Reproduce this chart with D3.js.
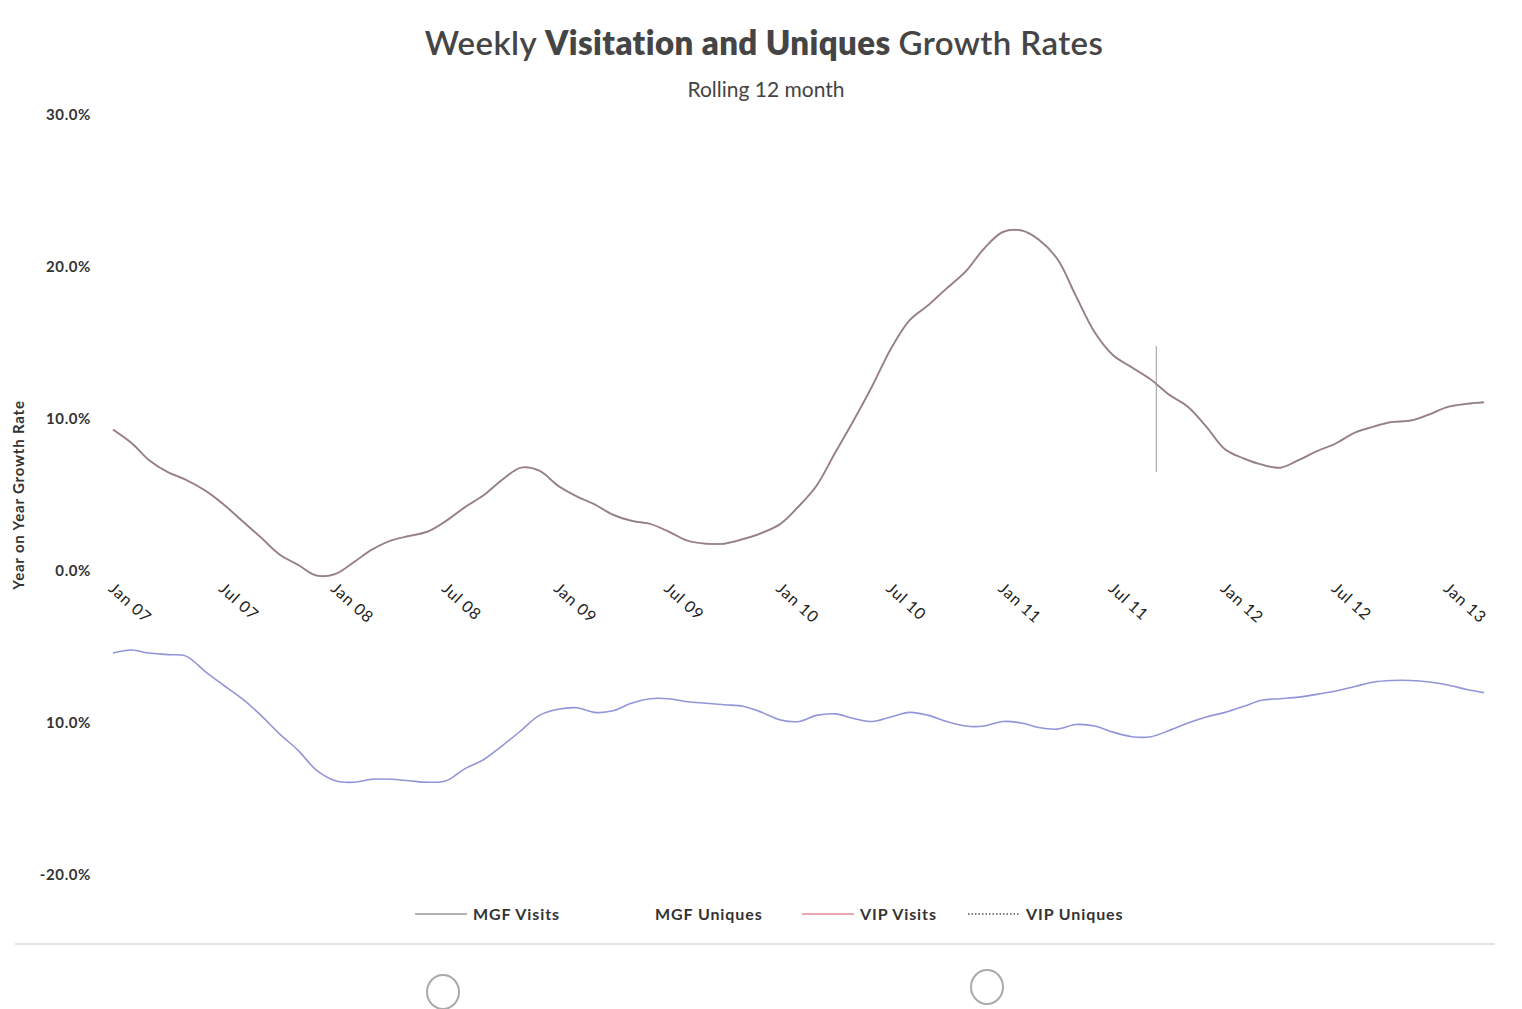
<!DOCTYPE html>
<html>
<head>
<meta charset="utf-8">
<script src="https://cdn.jsdelivr.net/npm/d3@7"></script>
<style>
  body { margin: 0; background: #fff; }
  svg { display: block; font-family: Lato, "Open Sans", sans-serif; }
</style>
</head>
<body>
<svg id="chart" width="1522" height="1009"></svg>
<script>
// monthly points, first one is Jan 2007
let startMonth = new Date(2007, 0, 1);

// top curve, MGF Visits and VIP Visits sit on top of each other
let visits = [9.3, 8.4, 7.3, 6.5, 6.0, 5.3, 4.4, 3.3, 2.2, 1.1, 0.4, -0.3,
  -0.2, 0.6, 1.4, 2.0, 2.3, 2.6, 3.3, 4.2, 5.0, 6.0, 6.8, 6.6,
  5.6, 4.9, 4.4, 3.7, 3.3, 3.1, 2.6, 2.0, 1.8, 1.8, 2.1, 2.5,
  3.1, 4.3, 5.6, 7.8, 9.9, 12.2, 14.6, 16.5, 17.5, 18.6, 19.7, 21.2,
  22.3, 22.4, 21.8, 20.5, 18.1, 15.7, 14.2, 13.4, 12.6, 11.6, 10.8, 9.5,
  8.0, 7.4, 7.0, 6.8, 7.3, 7.9, 8.4, 9.1, 9.5, 9.8, 9.9, 10.3,
  10.8, 11.0, 11.1];

// bottom curve (uniques)
let uniques = [-5.4, -5.2, -5.4, -5.5, -5.6, -6.6, -7.5, -8.4, -9.5, -10.7, -11.8, -13.1,
  -13.8, -13.9, -13.7, -13.7, -13.8, -13.9, -13.8, -13.0, -12.4, -11.5, -10.5, -9.5,
  -9.1, -9.0, -9.3, -9.2, -8.7, -8.4, -8.4, -8.6, -8.7, -8.8, -8.9, -9.3,
  -9.8, -9.9, -9.5, -9.4, -9.7, -9.9, -9.6, -9.3, -9.5, -9.9, -10.2, -10.2,
  -9.9, -10.0, -10.3, -10.4, -10.1, -10.2, -10.6, -10.9, -10.9, -10.5, -10.0, -9.6,
  -9.3, -8.9, -8.5, -8.4, -8.3, -8.1, -7.9, -7.6, -7.3, -7.2, -7.2, -7.3,
  -7.5, -7.8, -8.0];

let yTicks = [-20, -10, 0, 10, 20, 30];
let yTickLabels = ["-20.0%", "10.0%", "0.0%", "10.0%", "20.0%", "30.0%"];

let xTickLabels = ["Jan 07", "Jul 07", "Jan 08", "Jul 08", "Jan 09", "Jul 09", "Jan 10",
  "Jul 10", "Jan 11", "Jul 11", "Jan 12", "Jul 12", "Jan 13"];

let legendNames = ["MGF Visits", "MGF Uniques", "VIP Visits", "VIP Uniques"];

// the odd vertical mark near Sep 11
let markerMonth = 56.3;
let markerRange = [6.5, 14.8];

function monthDate(m) {
  let d = new Date(startMonth);
  d.setMonth(d.getMonth() + Math.floor(m));
  d.setDate(1 + Math.round((m - Math.floor(m)) * 30));
  return d;
}

let svg = d3.select("svg#chart");

let x = d3.scaleTime()
  .domain([new Date(2007, 0, 1), new Date(2013, 0, 1)])
  .range([113, 1448]);

let y = d3.scaleLinear()
  .domain([-20, 30])
  .range([875, 115]);

// title
let title = svg.append("text")
  .attr("x", 764)
  .attr("y", 55)
  .attr("text-anchor", "middle")
  .attr("fill", "#454545")
  .style("font-size", "33px")
  .style("letter-spacing", "0.4px");
title.append("tspan").attr("font-weight", 600).text("Weekly ");
title.append("tspan").attr("font-weight", 800).text("Visitation and Uniques ");
title.append("tspan").attr("font-weight", 600).text("Growth Rates");

svg.append("text")
  .attr("x", 766)
  .attr("y", 97)
  .attr("text-anchor", "middle")
  .attr("fill", "#444")
  .style("font-size", "21px")
  .text("Rolling 12 month");

// y axis
let yAxis = d3.axisLeft(y)
  .tickValues(yTicks)
  .tickSize(0)
  .tickPadding(0)
  .tickFormat(function (d, i) { return yTickLabels[i]; });

let gy = svg.append("g")
  .attr("transform", "translate(91,0)")
  .call(yAxis);
gy.select(".domain").remove();
gy.selectAll("text")
  .attr("fill", "#333")
  .style("font-size", "15px")
  .style("font-weight", "bold")
  .style("letter-spacing", "0.6px")
  .style("font-family", "Lato, sans-serif");

svg.append("text")
  .attr("transform", "translate(24,495) rotate(-90)")
  .attr("text-anchor", "middle")
  .attr("fill", "#333")
  .style("font-size", "15px")
  .style("font-weight", "bold")
  .style("letter-spacing", "0.8px")
  .text("Year on Year Growth Rate");

// x axis, rotated labels
let xDates = xTickLabels.map(function (t, i) { return monthDate(i * 6); });
let xAxis = d3.axisBottom(x)
  .tickValues(xDates)
  .tickSize(0)
  .tickFormat(function (d, i) { return xTickLabels[i]; });

let gx = svg.append("g")
  .attr("transform", "translate(0,590)")
  .call(xAxis);
gx.select(".domain").remove();
gx.selectAll("text")
  .attr("text-anchor", "start")
  .attr("dy", 0)
  .attr("y", 0)
  .attr("transform", "translate(-6,0) rotate(42)")
  .attr("fill", "#222")
  .style("font-size", "16px")
  .style("letter-spacing", "0.8px")
  .style("font-family", "Lato, sans-serif");

// lines
let line = d3.line()
  .x(function (d, i) { return x(monthDate(i)); })
  .y(function (d) { return y(d); })
  .curve(d3.curveCatmullRom);

svg.append("path")
  .datum(visits)
  .attr("fill", "none")
  .attr("stroke", "#e8a0aa")
  .attr("stroke-width", 2)
  .attr("d", line);

svg.append("path")
  .datum(visits)
  .attr("fill", "none")
  .attr("stroke", "#858589")
  .attr("stroke-width", 1.5)
  .attr("d", line);

svg.append("path")
  .datum(uniques)
  .attr("fill", "none")
  .attr("stroke", "#9295d8")
  .attr("stroke-width", 1.6)
  .attr("d", line);

svg.append("line")
  .attr("x1", x(monthDate(markerMonth)))
  .attr("x2", x(monthDate(markerMonth)))
  .attr("y1", y(markerRange[1]))
  .attr("y2", y(markerRange[0]))
  .attr("stroke", "#999")
  .attr("stroke-width", 1);

// legend
let legend = [
  { name: legendNames[0], lx: 415, stroke: "#999", dash: null },
  { name: legendNames[1], lx: 597, stroke: null, dash: null },
  { name: legendNames[2], lx: 802, stroke: "#e08a98", dash: null },
  { name: legendNames[3], lx: 968, stroke: "#555", dash: "1.5,2" }
];

legend.forEach(function (l) {
  if (l.stroke) {
    svg.append("line")
      .attr("x1", l.lx)
      .attr("x2", l.lx + 52)
      .attr("y1", 914)
      .attr("y2", 914)
      .attr("stroke", l.stroke)
      .attr("stroke-width", 1.5)
      .attr("stroke-dasharray", l.dash);
  }
  svg.append("text")
    .attr("x", l.lx + 58)
    .attr("y", 920)
    .attr("fill", "#333")
    .style("font-size", "16px")
    .style("font-weight", "bold")
    .style("letter-spacing", "0.9px")
    .text(l.name);
});

// page separator and the two circles under the chart
svg.append("line")
  .attr("x1", 15).attr("x2", 1495)
  .attr("y1", 944).attr("y2", 944)
  .attr("stroke", "#e2e2e2")
  .attr("stroke-width", 2);

[[443, 992], [987, 987]].forEach(function (c) {
  svg.append("ellipse")
    .attr("cx", c[0]).attr("cy", c[1])
    .attr("rx", 16).attr("ry", 17)
    .attr("fill", "none")
    .attr("stroke", "#aaa")
    .attr("stroke-width", 2);
});
</script>
</body>
</html>
